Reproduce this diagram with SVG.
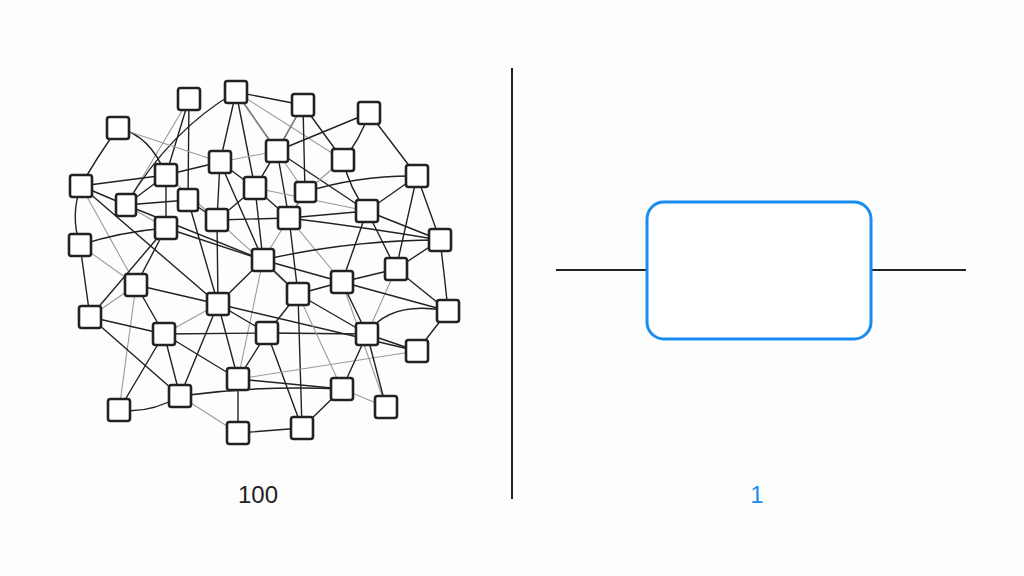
<svg xmlns="http://www.w3.org/2000/svg" width="1024" height="576" viewBox="0 0 1024 576">
<style>
.e{stroke:#222;stroke-width:1.4;fill:none;stroke-linecap:round}
.l{stroke:#9a9a9a;stroke-width:1.1;fill:none;stroke-linecap:round}
.n rect{fill:#fff;stroke:#222;stroke-width:2.6}
.d{stroke:#222;stroke-width:2;fill:none}
.lbl{font-family:"Liberation Sans",Arial,sans-serif;font-size:24px;text-anchor:middle}
</style>
<rect width="1024" height="576" fill="#fdfdfd"/>
<g id="connectors">
<line class="e" x1="189" y1="99" x2="166" y2="175"/>
<line class="e" x1="189" y1="99" x2="188" y2="200"/>
<line class="l" x1="189" y1="99" x2="126" y2="205"/>
<line class="e" x1="236" y1="92" x2="303" y2="105"/>
<line class="e" x1="236" y1="92" x2="220" y2="162"/>
<line class="e" x1="236" y1="92" x2="277" y2="151"/>
<line class="e" x1="236" y1="92" x2="255" y2="188"/>
<path class="e" d="M236 92 Q170 130 126 205"/>
<line class="l" x1="236" y1="92" x2="305" y2="192"/>
<line class="l" x1="236" y1="92" x2="343" y2="160"/>
<line class="e" x1="303" y1="105" x2="277" y2="151"/>
<line class="e" x1="303" y1="105" x2="343" y2="160"/>
<line class="e" x1="303" y1="105" x2="305" y2="192"/>
<line class="l" x1="303" y1="105" x2="255" y2="188"/>
<line class="e" x1="369" y1="113" x2="277" y2="151"/>
<path class="e" d="M369 113 Q360 140 343 160"/>
<line class="e" x1="369" y1="113" x2="417" y2="176"/>
<path class="e" d="M118 128 Q95 160 81 186"/>
<path class="e" d="M118 128 Q150 135 166 175"/>
<line class="l" x1="118" y1="128" x2="220" y2="162"/>
<line class="e" x1="277" y1="151" x2="367" y2="211"/>
<line class="e" x1="277" y1="151" x2="289" y2="218"/>
<line class="l" x1="277" y1="151" x2="220" y2="162"/>
<line class="e" x1="277" y1="151" x2="255" y2="188"/>
<path class="e" d="M343 160 Q350 190 367 211"/>
<line class="l" x1="343" y1="160" x2="305" y2="192"/>
<line class="e" x1="166" y1="175" x2="220" y2="162"/>
<line class="e" x1="166" y1="175" x2="166" y2="228"/>
<line class="e" x1="166" y1="175" x2="126" y2="205"/>
<line class="l" x1="166" y1="175" x2="217" y2="220"/>
<line class="e" x1="220" y1="162" x2="217" y2="220"/>
<line class="e" x1="220" y1="162" x2="255" y2="188"/>
<line class="e" x1="220" y1="162" x2="263" y2="260"/>
<line class="e" x1="81" y1="186" x2="126" y2="205"/>
<path class="e" d="M81 186 Q70 215 80 245"/>
<line class="e" x1="81" y1="186" x2="166" y2="175"/>
<line class="e" x1="81" y1="186" x2="218" y2="304"/>
<line class="l" x1="81" y1="186" x2="136" y2="285"/>
<line class="e" x1="255" y1="188" x2="217" y2="220"/>
<line class="e" x1="255" y1="188" x2="289" y2="218"/>
<line class="e" x1="255" y1="188" x2="263" y2="260"/>
<line class="l" x1="255" y1="188" x2="367" y2="211"/>
<path class="e" d="M305 192 Q360 175 417 176"/>
<line class="e" x1="305" y1="192" x2="289" y2="218"/>
<line class="l" x1="305" y1="192" x2="263" y2="260"/>
<line class="e" x1="417" y1="176" x2="367" y2="211"/>
<line class="e" x1="417" y1="176" x2="396" y2="269"/>
<line class="e" x1="417" y1="176" x2="440" y2="240"/>
<line class="e" x1="126" y1="205" x2="188" y2="200"/>
<line class="l" x1="126" y1="205" x2="166" y2="228"/>
<line class="e" x1="126" y1="205" x2="263" y2="260"/>
<line class="e" x1="188" y1="200" x2="217" y2="220"/>
<line class="e" x1="188" y1="200" x2="218" y2="304"/>
<line class="e" x1="217" y1="220" x2="289" y2="218"/>
<line class="e" x1="217" y1="220" x2="218" y2="304"/>
<line class="l" x1="217" y1="220" x2="298" y2="294"/>
<line class="e" x1="166" y1="228" x2="136" y2="285"/>
<line class="e" x1="166" y1="228" x2="263" y2="260"/>
<path class="e" d="M166 228 Q120 232 80 245"/>
<line class="e" x1="166" y1="228" x2="90" y2="317"/>
<line class="e" x1="80" y1="245" x2="90" y2="317"/>
<line class="l" x1="80" y1="245" x2="136" y2="285"/>
<line class="e" x1="367" y1="211" x2="440" y2="240"/>
<line class="e" x1="367" y1="211" x2="396" y2="269"/>
<line class="e" x1="367" y1="211" x2="342" y2="282"/>
<line class="e" x1="367" y1="211" x2="289" y2="218"/>
<path class="e" d="M289 218 Q370 228 440 240"/>
<line class="e" x1="289" y1="218" x2="298" y2="294"/>
<line class="l" x1="289" y1="218" x2="342" y2="282"/>
<line class="e" x1="440" y1="240" x2="396" y2="269"/>
<path class="e" d="M440 240 Q445 280 448 311"/>
<path class="e" d="M263 260 Q350 240 440 240"/>
<line class="e" x1="263" y1="260" x2="298" y2="294"/>
<line class="e" x1="263" y1="260" x2="218" y2="304"/>
<line class="l" x1="263" y1="260" x2="238" y2="379"/>
<line class="e" x1="263" y1="260" x2="342" y2="282"/>
<line class="e" x1="396" y1="269" x2="342" y2="282"/>
<line class="e" x1="396" y1="269" x2="448" y2="311"/>
<line class="l" x1="396" y1="269" x2="367" y2="334"/>
<line class="e" x1="136" y1="285" x2="164" y2="334"/>
<line class="e" x1="136" y1="285" x2="218" y2="304"/>
<line class="l" x1="136" y1="285" x2="90" y2="317"/>
<line class="l" x1="136" y1="285" x2="119" y2="410"/>
<line class="e" x1="90" y1="317" x2="164" y2="334"/>
<line class="e" x1="90" y1="317" x2="180" y2="396"/>
<line class="l" x1="218" y1="304" x2="164" y2="334"/>
<line class="e" x1="218" y1="304" x2="238" y2="379"/>
<line class="e" x1="218" y1="304" x2="180" y2="396"/>
<line class="e" x1="218" y1="304" x2="267" y2="333"/>
<line class="e" x1="218" y1="304" x2="417" y2="351"/>
<line class="e" x1="164" y1="334" x2="267" y2="333"/>
<line class="e" x1="164" y1="334" x2="238" y2="379"/>
<line class="e" x1="164" y1="334" x2="180" y2="396"/>
<line class="e" x1="164" y1="334" x2="119" y2="410"/>
<line class="e" x1="267" y1="333" x2="367" y2="334"/>
<line class="e" x1="267" y1="333" x2="238" y2="379"/>
<line class="e" x1="267" y1="333" x2="302" y2="428"/>
<line class="e" x1="267" y1="333" x2="298" y2="294"/>
<line class="e" x1="298" y1="294" x2="342" y2="282"/>
<line class="e" x1="298" y1="294" x2="367" y2="334"/>
<line class="e" x1="298" y1="294" x2="302" y2="428"/>
<line class="l" x1="298" y1="294" x2="342" y2="389"/>
<line class="e" x1="238" y1="379" x2="238" y2="433"/>
<line class="e" x1="238" y1="379" x2="342" y2="389"/>
<line class="l" x1="238" y1="379" x2="417" y2="351"/>
<path class="e" d="M180 396 Q150 414 119 410"/>
<line class="l" x1="180" y1="396" x2="238" y2="433"/>
<path class="e" d="M180 396 Q260 385 342 389"/>
<line class="e" x1="238" y1="433" x2="302" y2="428"/>
<line class="e" x1="342" y1="282" x2="448" y2="311"/>
<line class="e" x1="342" y1="282" x2="367" y2="334"/>
<line class="l" x1="342" y1="282" x2="386" y2="407"/>
<path class="e" d="M367 334 Q390 300 448 311"/>
<line class="e" x1="448" y1="311" x2="417" y2="351"/>
<line class="e" x1="367" y1="334" x2="417" y2="351"/>
<line class="e" x1="367" y1="334" x2="342" y2="389"/>
<line class="e" x1="367" y1="334" x2="386" y2="407"/>
<line class="l" x1="342" y1="389" x2="386" y2="407"/>
<line class="e" x1="342" y1="389" x2="302" y2="428"/>
</g>
<g class="n">
<g id="n1"><rect x="178" y="88" width="22" height="22" rx="2.5"/></g>
<g id="n2"><rect x="225" y="81" width="22" height="22" rx="2.5"/></g>
<g id="n3"><rect x="292" y="94" width="22" height="22" rx="2.5"/></g>
<g id="n4"><rect x="358" y="102" width="22" height="22" rx="2.5"/></g>
<g id="n5"><rect x="107" y="117" width="22" height="22" rx="2.5"/></g>
<g id="n6"><rect x="266" y="140" width="22" height="22" rx="2.5"/></g>
<g id="n7"><rect x="332" y="149" width="22" height="22" rx="2.5"/></g>
<g id="n8"><rect x="155" y="164" width="22" height="22" rx="2.5"/></g>
<g id="n9"><rect x="209" y="151" width="22" height="22" rx="2.5"/></g>
<g id="n10"><rect x="70" y="175" width="22" height="22" rx="2.5"/></g>
<g id="n11"><rect x="244" y="177" width="22" height="22" rx="2.5"/></g>
<g id="n12"><rect x="295" y="182" width="21" height="20" rx="2.5"/></g>
<g id="n13"><rect x="406" y="165" width="22" height="22" rx="2.5"/></g>
<g id="n14"><rect x="116" y="194" width="20" height="22" rx="2.5"/></g>
<g id="n15"><rect x="178" y="189" width="20" height="22" rx="2.5"/></g>
<g id="n16"><rect x="206" y="209" width="22" height="22" rx="2.5"/></g>
<g id="n17"><rect x="155" y="217" width="22" height="22" rx="2.5"/></g>
<g id="n18"><rect x="69" y="234" width="22" height="22" rx="2.5"/></g>
<g id="n19"><rect x="356" y="200" width="22" height="22" rx="2.5"/></g>
<g id="n20"><rect x="278" y="207" width="22" height="22" rx="2.5"/></g>
<g id="n21"><rect x="429" y="229" width="22" height="22" rx="2.5"/></g>
<g id="n22"><rect x="252" y="249" width="22" height="22" rx="2.5"/></g>
<g id="n23"><rect x="385" y="258" width="22" height="22" rx="2.5"/></g>
<g id="n24"><rect x="125" y="274" width="22" height="22" rx="2.5"/></g>
<g id="n25"><rect x="79" y="306" width="22" height="22" rx="2.5"/></g>
<g id="n26"><rect x="207" y="293" width="22" height="22" rx="2.5"/></g>
<g id="n27"><rect x="153" y="323" width="22" height="22" rx="2.5"/></g>
<g id="n28"><rect x="256" y="322" width="22" height="22" rx="2.5"/></g>
<g id="n29"><rect x="287" y="283" width="22" height="22" rx="2.5"/></g>
<g id="n30"><rect x="227" y="368" width="22" height="22" rx="2.5"/></g>
<g id="n31"><rect x="169" y="385" width="22" height="22" rx="2.5"/></g>
<g id="n32"><rect x="108" y="399" width="22" height="22" rx="2.5"/></g>
<g id="n33"><rect x="227" y="422" width="22" height="22" rx="2.5"/></g>
<g id="n34"><rect x="331" y="271" width="22" height="22" rx="2.5"/></g>
<g id="n35"><rect x="437" y="300" width="22" height="22" rx="2.5"/></g>
<g id="n36"><rect x="356" y="323" width="22" height="22" rx="2.5"/></g>
<g id="n37"><rect x="406" y="340" width="22" height="22" rx="2.5"/></g>
<g id="n38"><rect x="331" y="378" width="22" height="22" rx="2.5"/></g>
<g id="n39"><rect x="375" y="396" width="22" height="22" rx="2.5"/></g>
<g id="n40"><rect x="291" y="417" width="22" height="22" rx="2.5"/></g>
</g>
<g id="divider"><line class="d" x1="512" y1="68" x2="512" y2="499"/></g>
<g id="wires">
<line class="d" x1="556" y1="270" x2="646" y2="270"/>
<line class="d" x1="872" y1="270" x2="966" y2="270"/>
</g>
<g id="block"><rect x="647" y="202" width="224" height="137" rx="17" fill="#fff" stroke="#1a8cf0" stroke-width="3"/></g>
<g id="labels">
<text class="lbl" x="258" y="503" fill="#222">100</text>
<text class="lbl" x="757" y="503" fill="#1a8cf0">1</text>
</g>
</svg>
